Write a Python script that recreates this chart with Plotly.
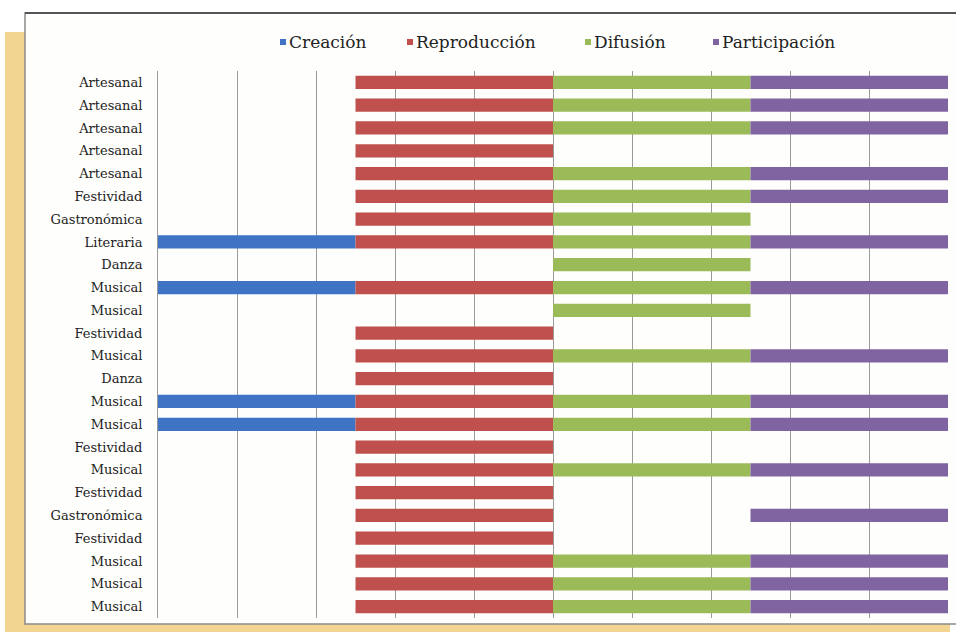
import plotly.graph_objects as go

# Manifestation type for each row, top to bottom
categorias = [
    "Artesanal", "Artesanal", "Artesanal", "Artesanal", "Artesanal",
    "Festividad", "Gastronómica", "Literaria", "Danza", "Musical",
    "Musical", "Festividad", "Musical", "Danza", "Musical",
    "Musical", "Festividad", "Musical", "Festividad", "Gastronómica",
    "Festividad", "Musical", "Musical", "Musical",
]

# Presence (1) or absence (None) of each stage per row
creacion = [None, None, None, None, None, None, None, 1, None, 1,
            None, None, None, None, 1, 1, None, None, None, None,
            None, None, None, None]
reproduccion = [1, 1, 1, 1, 1, 1, 1, 1, None, 1,
                None, 1, 1, 1, 1, 1, 1, 1, 1, 1,
                1, 1, 1, 1]
difusion = [1, 1, 1, None, 1, 1, 1, 1, 1, 1,
            1, None, 1, None, 1, 1, None, 1, None, None,
            None, 1, 1, 1]
participacion = [1, 1, 1, None, 1, 1, None, 1, None, 1,
                 None, None, 1, None, 1, 1, None, 1, None, 1,
                 None, 1, 1, 1]

series = [
    ("Creación", creacion, "#3F74C4"),
    ("Reproducción", reproduccion, "#C0504D"),
    ("Difusión", difusion, "#9BBB59"),
    ("Participación", participacion, "#8064A2"),
]

W, H = 956, 636
ML, MR, MT, MB = 158, 8, 71, 18
PW, PH = W - ML - MR, H - MT - MB

# Legend row: left edge (px) of each entry's swatch, and its vertical centre
LEG_X = [280, 407, 585, 713]
LEG_Y = 42
SW = 6


def px_x(p):
    return (p - ML) / PW


def px_y(p):
    return (H - MB - p) / PH


rows = list(range(len(categorias)))
fig = go.Figure()
for k, (nombre, vals, color) in enumerate(series):
    fig.add_trace(go.Bar(
        name=nombre,
        y=rows,
        x=vals,
        base=[k] * len(rows),
        orientation="h",
        marker=dict(color=color, line=dict(width=0)),
        width=0.58,
        showlegend=False,
    ))

serif = "DejaVu Serif"

shapes = [
    # tan page background
    dict(type="rect", xref="paper", yref="paper", layer="below",
         x0=px_x(5), x1=px_x(950), y0=px_y(632), y1=px_y(32),
         fillcolor="#F2D591", line=dict(width=0)),
    # chart box
    dict(type="rect", xref="paper", yref="paper", layer="below",
         x0=px_x(25), x1=px_x(962), y0=px_y(624), y1=px_y(13),
         fillcolor="#FEFEFC", line=dict(color="#8a8a8a", width=1.5)),
    # darker top edge of the box
    dict(type="line", xref="paper", yref="paper", layer="below",
         x0=px_x(25), x1=px_x(962), y0=px_y(13), y1=px_y(13),
         line=dict(color="#555555", width=2)),
]
annotations = []

# Legend: small square swatch followed by the series name
for (nombre, _, color), x0 in zip(series, LEG_X):
    shapes.append(dict(
        type="rect", xref="paper", yref="paper",
        x0=px_x(x0), x1=px_x(x0 + SW),
        y0=px_y(LEG_Y + SW / 2), y1=px_y(LEG_Y - SW / 2),
        fillcolor=color, line=dict(width=0),
    ))
    annotations.append(dict(
        text=nombre, xref="paper", yref="paper",
        x=px_x(x0 + SW + 1), y=px_y(LEG_Y),
        xanchor="left", yanchor="middle", showarrow=False,
        font=dict(size=17, family=serif, color="#222222"),
    ))

fig.update_layout(
    width=W, height=H,
    margin=dict(l=ML, r=MR, t=MT, b=MB),
    barmode="overlay",
    paper_bgcolor="white",
    plot_bgcolor="rgba(0,0,0,0)",
    font=dict(family=serif, color="#222222"),
    showlegend=False,
    xaxis=dict(
        range=[0, 4],
        dtick=0.4,
        showgrid=True,
        gridcolor="#9a9a9a",
        gridwidth=1,
        showticklabels=False,
        zeroline=False,
        showline=False,
        fixedrange=True,
    ),
    yaxis=dict(
        range=[len(rows) - 0.5, -0.5],
        tickmode="array",
        tickvals=rows,
        ticktext=categorias,
        tickfont=dict(size=13, family=serif, color="#222222"),
        ticklabelstandoff=12,
        showgrid=False,
        zeroline=False,
        showline=True,
        linecolor="#9a9a9a",
        ticks="",
        ticklen=0,
        fixedrange=True,
    ),
    shapes=shapes,
    annotations=annotations,
)

fig.write_html("out.html")
